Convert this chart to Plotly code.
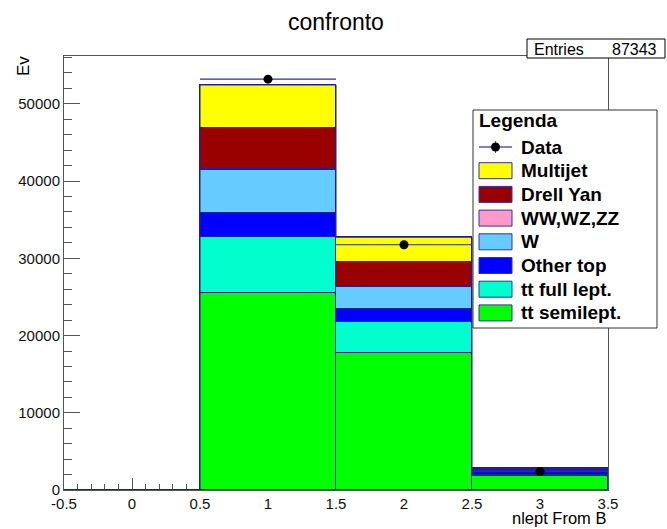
import numpy as np
import plotly.graph_objects as go

# ---------------- data ----------------
categories = [0, 1, 2, 3]
tt_semilept = [0, 25540, 17790, 1850]
tt_full_lept = [0, 7280, 3930, 120]
other_top = [0, 3010, 1730, 350]
w_jets = [0, 5610, 2790, 190]
diboson = [0, 120, 60, 10]
drell_yan = [0, 5380, 3190, 150]
multijet = [0, 5510, 3240, 120]
data_counts = [0, 53200, 31760, 2383]
entries = 87343

x_tickvals = [-0.5, 0, 0.5, 1, 1.5, 2, 2.5, 3, 3.5]
x_ticktext = ["-0.5", "0", "0.5", "1", "1.5", "2", "2.5", "3", "3.5"]
y_tickvals = [0, 10000, 20000, 30000, 40000, 50000]
y_ticktext = ["0", "10000", "20000", "30000", "40000", "50000"]

legend_names = ["Multijet", "Drell Yan", "WW,WZ,ZZ", "W", "Other top",
                "tt full lept.", "tt semilept."]

# ---------------- styles ----------------
FONT = "Liberation Sans"
EDGE = "#1f1f99"
colors = {
    "tt semilept.": "#00ff00",
    "tt full lept.": "#00ffcc",
    "Other top": "#0000ff",
    "W": "#66ccff",
    "WW,WZ,ZZ": "#ff99cc",
    "Drell Yan": "#990000",
    "Multijet": "#ffff00",
}

stack = [
    ("tt semilept.", tt_semilept),
    ("tt full lept.", tt_full_lept),
    ("Other top", other_top),
    ("W", w_jets),
    ("WW,WZ,ZZ", diboson),
    ("Drell Yan", drell_yan),
    ("Multijet", multijet),
]

fig = go.Figure()
for name, vals in stack:
    fig.add_trace(go.Bar(
        x=categories, y=vals, width=1, name=name,
        marker=dict(color=colors[name], line=dict(color=EDGE, width=1)),
        showlegend=False, hoverinfo="x+y+name",
    ))

# stack outline (step) incl. empty first bin
totals = np.sum([v for _, v in stack], axis=0)
edges = [c - 0.5 for c in categories] + [categories[-1] + 0.5]
fig.add_trace(go.Scatter(
    x=edges, y=list(totals) + [totals[-1]], mode="lines",
    line=dict(color=EDGE, width=1, shape="hv"), showlegend=False, hoverinfo="skip",
))

# data points
dx = [c for c, d in zip(categories, data_counts) if d > 0]
dy = [d for d in data_counts if d > 0]
fig.add_trace(go.Scatter(
    x=dx, y=dy, mode="markers", name="Data",
    marker=dict(color="black", size=9),
    error_x=dict(type="constant", value=0.5, width=0, thickness=1.2, color="#2b2b9b"),
    error_y=dict(type="data", array=list(np.sqrt(dy)), width=0, thickness=1.2, color="#2b2b9b"),
    showlegend=False,
))

# ---------------- layout ----------------
PL, PR, PT, PB = 64, 608, 56, 490
W, H = 667, 529


def px(x):
    return (x - PL) / (PR - PL)


def py(y):
    return (PB - y) / (PB - PT)


axis_common = dict(
    showgrid=False, zeroline=False, showline=True, mirror=True,
    linecolor="#555555", linewidth=1, ticks="inside", tickcolor="#555555",
    tickfont=dict(family=FONT, size=15, color="#111111"),
)

fig.update_layout(
    width=W, height=H, autosize=False,
    margin=dict(l=PL, r=W - PR, t=PT, b=H - PB, pad=0),
    paper_bgcolor="white", plot_bgcolor="white",
    barmode="stack", bargap=0, showlegend=False,
    xaxis=dict(range=[-0.5, 3.5], tickvals=x_tickvals, ticktext=x_ticktext,
               ticklen=12, layer="below traces",
               minor=dict(dtick=0.1, tick0=-0.5, ticklen=6, ticks="inside",
                          tickcolor="#555555", showgrid=False),
               **axis_common),
    yaxis=dict(range=[0, 56200], tickvals=y_tickvals, ticktext=y_ticktext,
               ticklen=16,
               minor=dict(dtick=2000, tick0=0, ticklen=8, ticks="inside",
                          tickcolor="#555555", showgrid=False),
               **axis_common),
)

shapes = []
annotations = []

# title
annotations.append(dict(text="confronto", xref="paper", yref="paper", x=0.5, y=py(22),
                        xanchor="center", yanchor="middle", showarrow=False,
                        font=dict(family=FONT, size=23, color="black")))
# axis titles
annotations.append(dict(text="nlept From B", xref="paper", yref="paper", x=px(608), y=py(529),
                        xanchor="right", yanchor="bottom", showarrow=False,
                        font=dict(family=FONT, size=16.5, color="black")))
annotations.append(dict(text="Ev", xref="paper", yref="paper", x=px(23), y=py(66),
                        xanchor="center", yanchor="middle", showarrow=False, textangle=-90,
                        font=dict(family=FONT, size=17, color="black")))

# stats box
shapes.append(dict(type="rect", xref="paper", yref="paper", x0=px(527), x1=px(665),
                   y0=py(58), y1=py(39), fillcolor="white",
                   line=dict(color="black", width=1), layer="above"))
annotations.append(dict(text="Entries", xref="paper", yref="paper", x=px(532), y=py(49),
                        xanchor="left", yanchor="middle", showarrow=False,
                        font=dict(family=FONT, size=16, color="black")))
annotations.append(dict(text=str(entries), xref="paper", yref="paper", x=px(659), y=py(49),
                        xanchor="right", yanchor="middle", showarrow=False,
                        font=dict(family=FONT, size=16, color="black")))

# legend box
shapes.append(dict(type="rect", xref="paper", yref="paper", x0=px(473), x1=px(657),
                   y0=py(328), y1=py(110), fillcolor="white",
                   line=dict(color="#333333", width=1), layer="above"))
LFONT = dict(family=FONT, size=19, color="black", weight="bold")
annotations.append(dict(text="Legenda", xref="paper", yref="paper", x=px(477), y=py(121),
                        xanchor="left", yanchor="middle", showarrow=False, font=LFONT))

y0 = 147
step = 23.7
# Data entry
shapes.append(dict(type="line", xref="paper", yref="paper", x0=px(479), x1=px(512),
                   y0=py(y0), y1=py(y0), line=dict(color="#5555bb", width=1.5), layer="above"))
shapes.append(dict(type="line", xref="paper", yref="paper", x0=px(495.5), x1=px(495.5),
                   y0=py(y0 - 6), y1=py(y0 + 6), line=dict(color="#5555bb", width=1), layer="above"))
shapes.append(dict(type="circle", xref="paper", yref="paper", x0=px(491), x1=px(500),
                   y0=py(y0 + 4.5), y1=py(y0 - 4.5), fillcolor="black",
                   line=dict(color="black", width=0), layer="above"))
annotations.append(dict(text="Data", xref="paper", yref="paper", x=px(519), y=py(y0),
                        xanchor="left", yanchor="middle", showarrow=False, font=LFONT))

for i, name in enumerate(legend_names):
    yc = y0 + step * (i + 1)
    shapes.append(dict(type="rect", xref="paper", yref="paper", x0=px(479), x1=px(512),
                       y0=py(yc + 8), y1=py(yc - 8), fillcolor=colors[name],
                       line=dict(color="#333399", width=1), layer="above"))
    annotations.append(dict(text=name, xref="paper", yref="paper", x=px(519), y=py(yc),
                            xanchor="left", yanchor="middle", showarrow=False, font=LFONT))

fig.update_layout(shapes=shapes, annotations=annotations)
fig.write_html("out.html", config={"displayModeBar": False},
               post_script="document.body.style.margin='0px';document.body.style.overflow='hidden';")
